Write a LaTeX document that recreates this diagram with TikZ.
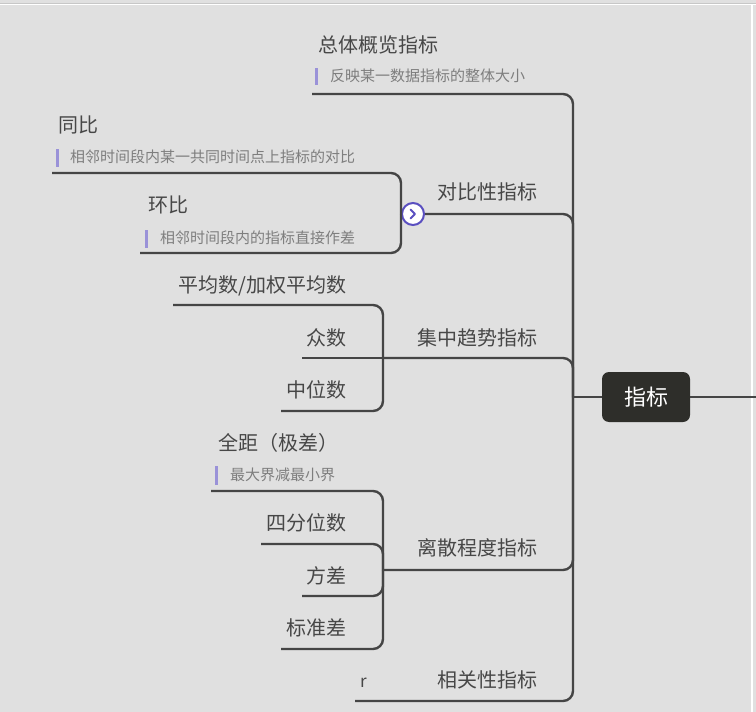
\documentclass[tikz,border=0pt]{standalone}
\usepackage{fontspec}
\setmainfont{Noto Sans CJK SC}
\definecolor{bg}{HTML}{E0E0E0}
\definecolor{linec}{HTML}{454545}
\definecolor{labelc}{HTML}{474747}
\definecolor{notec}{HTML}{7E7E7E}
\definecolor{barc}{HTML}{9A92D8}
\definecolor{circc}{HTML}{5A4FC0}
\definecolor{rootc}{HTML}{2E2E2A}
\tikzset{
  conn/.style={draw=linec, line width=2.4pt, rounded corners=10pt},
  lbl/.style={inner sep=0pt, text=labelc, font=\fontsize{20}{21}\selectfont},
  note/.style={inner sep=0pt, text=notec, font=\fontsize{15}{16}\selectfont},
  notebar/.style={draw=barc, line width=3pt},
  rootbox/.style={fill=rootc, rounded corners=7pt, minimum width=88pt, minimum height=50pt, inner sep=0pt, text=white, font=\fontsize{22}{23}\selectfont},
  togglec/.style={circle, draw=circc, fill=white, line width=2pt, minimum size=22pt, inner sep=0pt}
}
\begin{document}
\begin{tikzpicture}[x=1pt,y=-1pt]
\fill[bg] (0,0) rectangle (756,712);
\useasboundingbox (0,0) rectangle (756,712);
\draw[line width=1pt, draw=black!22] (0,3) -- (756,3);
\draw[line width=1.2pt, white] (0,4.3) -- (756,4.3);
\draw[line width=1.5pt, white] (752,4) -- (752,712);

% root
\node[rootbox] (root) at (646,397) {指标};
\coordinate (hub) at (573,397);
\coordinate (rend) at (756,397);
\draw[conn] (hub) -- (root.west);
\draw[conn] (root.east) -- (rend);

% branch 1: 总体概览指标
\node[lbl, anchor=base west] (b1) at (318,52.5) {总体概览指标};
\node[note, anchor=base west] (n1) at (330,81.7) {反映某一数据指标的整体大小};
\coordinate (n1a) at (316,68); \coordinate (n1b) at (316,85);
\draw[notebar] (n1a) -- (n1b);
\coordinate (l1) at (312,94);
\draw[conn] (l1) -| (hub);

% branch 2: 对比性指标
\node[lbl, anchor=base east] (b2) at (538,199.5) {对比性指标};
\node[togglec] (tog) at (413,214) {};
\draw[circc, line width=2pt, line cap=round, line join=round] ([shift={(-2.5,-4.5)}]tog.center) -- ([shift={(2,0)}]tog.center) -- ([shift={(-2.5,4.5)}]tog.center);
\draw[conn] (tog.east) -| (hub);
\node[lbl, anchor=base west] (c1) at (58,132.5) {同比};
\node[note, anchor=base west] (cn1) at (70,162.7) {相邻时间段内某一共同时间点上指标的对比};
\coordinate (cn1a) at (57,149); \coordinate (cn1b) at (57,167);
\draw[notebar] (cn1a) -- (cn1b);
\coordinate (cl1) at (52,173);
\draw[conn] (cl1) -| (tog.west);
\node[lbl, anchor=base west] (c2) at (148,212.5) {环比};
\node[note, anchor=base west] (cn2) at (160,243.7) {相邻时间段内的指标直接作差};
\coordinate (cn2a) at (146,230); \coordinate (cn2b) at (146,248);
\draw[notebar] (cn2a) -- (cn2b);
\coordinate (cl2) at (140,253);
\draw[conn] (cl2) -| (tog.west);

% branch 3: 集中趋势指标
\node[lbl, anchor=base east] (b3) at (538,345.5) {集中趋势指标};
\coordinate (j3) at (383,358);
\draw[conn] (j3) -| (hub);
\node[lbl, anchor=base east] (d1) at (347,292.5) {平均数/加权平均数};
\coordinate (dl1) at (173,305);
\draw[conn] (dl1) -| (j3);
\node[lbl, anchor=base east] (d2) at (347,345.5) {众数};
\coordinate (dl2) at (302,358);
\draw[conn] (dl2) -- (j3);
\node[lbl, anchor=base east] (d3) at (347,397.5) {中位数};
\coordinate (dl3) at (281,411);
\draw[conn] (dl3) -| (j3);

% branch 4: 离散程度指标
\node[lbl, anchor=base east] (b4) at (538,555.5) {离散程度指标};
\coordinate (j4) at (383,570);
\draw[conn] (j4) -| (hub);
\node[lbl, anchor=base west] (e1) at (218,450.5) {全距（极差）};
\node[note, anchor=base west] (en1) at (230,480.7) {最大界减最小界};
\coordinate (en1a) at (216,466); \coordinate (en1b) at (216,485);
\draw[notebar] (en1a) -- (en1b);
\coordinate (el1) at (211,491);
\draw[conn] (el1) -| (j4);
\node[lbl, anchor=base east] (e2) at (347,530.5) {四分位数};
\coordinate (el2) at (261,544);
\draw[conn] (el2) -| (j4);
\node[lbl, anchor=base east] (e3) at (347,583.5) {方差};
\coordinate (el3) at (302,596);
\draw[conn] (el3) -| (j4);
\node[lbl, anchor=base east] (e4) at (347,635.5) {标准差};
\coordinate (el4) at (281,649);
\draw[conn] (el4) -| (j4);

% branch 5: 相关性指标
\node[lbl, anchor=base east] (b5) at (538,687.5) {相关性指标};
\node[lbl, anchor=base west, font=\fontsize{17}{18}\selectfont] (f1) at (360,687.5) {r};
\coordinate (l5) at (355,701);
\draw[conn] (l5) -| (hub);
\end{tikzpicture}
\end{document}
